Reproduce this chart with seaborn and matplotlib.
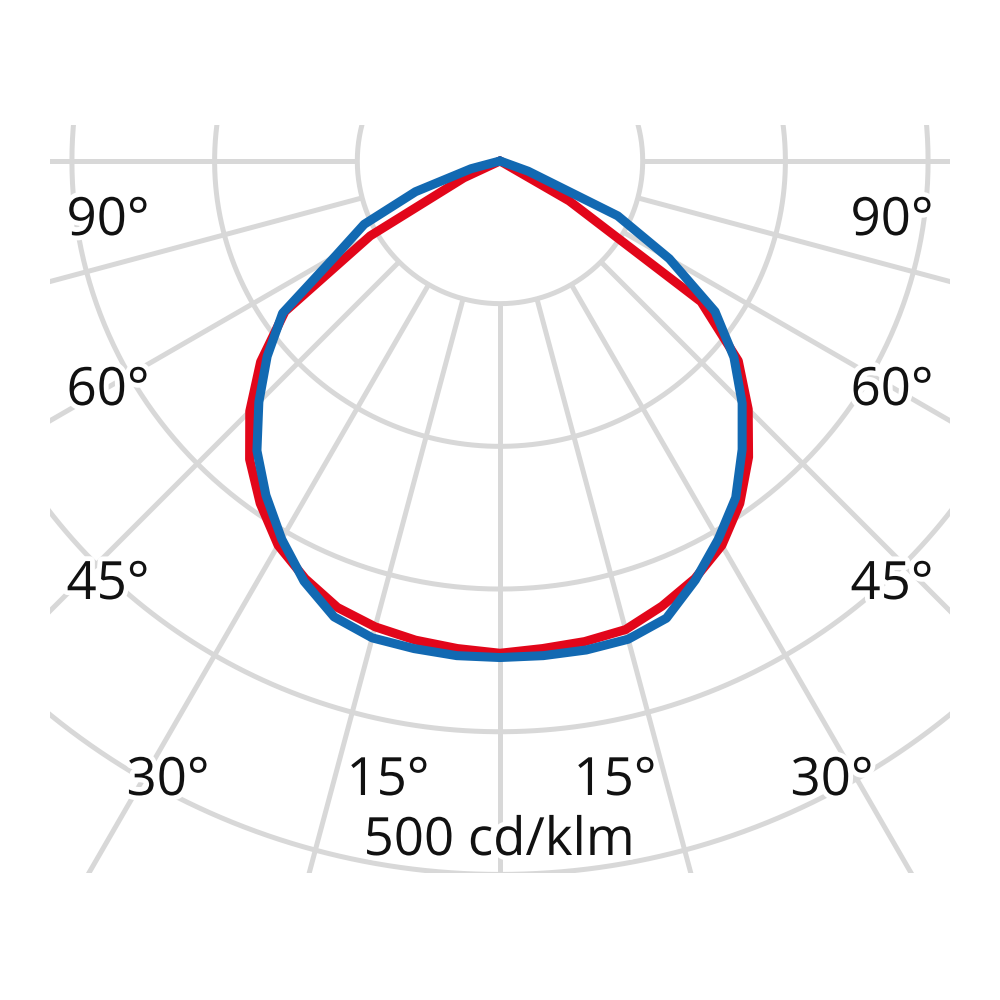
import numpy as np
import pandas as pd
import seaborn as sns
import matplotlib.pyplot as plt
import matplotlib.patheffects as pe
from matplotlib.patches import Rectangle

sns.set_theme(style="white")
plt.rcParams['font.family'] = ['Open Sans', 'DejaVu Sans']

# angles from nadir, left side negative (C180), right side positive (C0)
angles = [-90, -85, -80, -75, -70, -65, -60, -55, -50, -45, -40, -35, -30, -25, -20, -15, -10, -5,
          0, 5, 10, 15, 20, 25, 30, 35, 40, 45, 50, 55, 60, 65, 70, 75, 80, 85, 90]

# luminous intensity in cd/klm
red_cd = [0, 0, 0, 0, 0, 28, 105, 184, 219, 248, 273, 293, 311, 323, 333, 338, 341, 343,
          345, 343, 342, 340, 332, 323, 311, 293, 271, 246, 218, 172, 56, 0, 0, 0, 0, 0, 0]
blue_cd = [0, 0, 0, 21, 63, 105, 133, 186, 213, 239, 265, 286, 306, 325, 340, 346, 347, 348,
           348, 348, 348, 347, 341, 324, 306, 288, 264, 240, 214, 184, 137, 91, 21, 0, 0, 0, 0]

rings = [100, 200, 300, 400, 500]
spokes = [-90, -75, -60, -45, -30, -15, 0, 15, 30, 45, 60, 75, 90]

labels = [("90°", 0.108, 0.765), ("90°", 0.892, 0.765),
          ("60°", 0.108, 0.595), ("60°", 0.892, 0.595),
          ("45°", 0.108, 0.401), ("45°", 0.892, 0.401),
          ("30°", 0.168, 0.205), ("30°", 0.832, 0.205),
          ("15°", 0.388, 0.205), ("15°", 0.615, 0.205),
          ("500 cd/klm", 0.499, 0.145)]

grid_col = "#d8d8d8"
red_col = "#e2061a"
blue_col = "#1269b2"

fig = plt.figure(figsize=(10, 10), dpi=100)
ax = fig.add_axes([0, 0, 1, 1])
ax.set_xlim(-350.4, 350.4)
ax.set_ylim(-588.0, 112.8)
ax.set_aspect('equal')
ax.axis('off')

# grid is cut to a rectangle
clip = Rectangle((-315.3, -499.0), 630.6, 524.2, transform=ax.transData,
                 facecolor='none', edgecolor='none')
ax.add_patch(clip)

t = np.linspace(0, 2 * np.pi, 721)
for r in rings:
    ln, = ax.plot(r * np.sin(t), r * np.cos(t), color=grid_col, lw=3.6, zorder=1)
    ln.set_clip_path(clip)
for a in spokes:
    th = np.radians(a)
    ln, = ax.plot([100 * np.sin(th), 900 * np.sin(th)], [-100 * np.cos(th), -900 * np.cos(th)],
                  color=grid_col, lw=3.6, zorder=1, solid_capstyle='butt')
    ln.set_clip_path(clip)

# curves
rows = []
for name, vals in [("red", red_cd), ("blue", blue_cd)]:
    for a, v in zip(angles, vals):
        th = np.radians(a)
        rows.append({"series": name, "x": v * np.sin(th), "y": -v * np.cos(th)})
df = pd.DataFrame(rows)

for name, col in [("red", red_col), ("blue", blue_col)]:
    sub = df[df["series"] == name]
    sns.lineplot(data=sub, x="x", y="y", sort=False, estimator=None, color=col,
                 linewidth=6.5, ax=ax, zorder=3)
for line in ax.lines[-2:]:
    line.set_solid_joinstyle('round')
    line.set_solid_capstyle('round')

ax.set_xlim(-350.4, 350.4)
ax.set_ylim(-588.0, 112.8)
ax.axis('off')

for txt, x, y in labels:
    ax.text(x, y, txt, transform=ax.transAxes, ha='center', va='baseline',
            fontsize=38, color='#111111', zorder=5,
            path_effects=[pe.withStroke(linewidth=7, foreground='white')])

fig.savefig("out.png", dpi=100, facecolor='white')
